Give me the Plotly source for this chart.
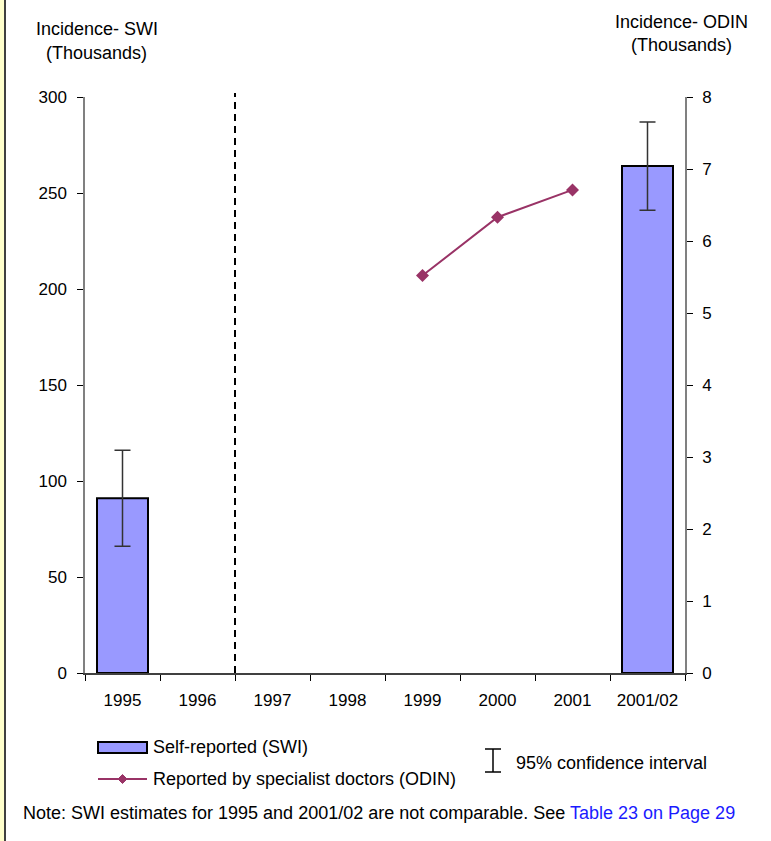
import plotly.graph_objects as go

# ---- data ----
categories = ["1995", "1996", "1997", "1998", "1999", "2000", "2001", "2001/02"]
swi_values = [91, None, None, None, None, None, None, 264]
swi_ci = [25, None, None, None, None, None, None, 23]
odin_values = [None, None, None, None, 5.52, 6.33, 6.71, None]
swi_ticks = [0, 50, 100, 150, 200, 250, 300]
odin_ticks = [0, 1, 2, 3, 4, 5, 6, 7, 8]

W, H = 771, 841
L, R, T, B = 85, 86, 97, 168
PW, PH = W - L - R, H - T - B
FONT = "Liberation Sans, Arial, sans-serif"
FS = 17
FL = 18


def px(x):
    return (x - L) / PW


def py(y):
    return (T + PH - y) / PH


fig = go.Figure()
fig.add_trace(go.Bar(
    x=categories, y=swi_values, name="Self-reported (SWI)",
    marker=dict(color="#9999ff", line=dict(color="#000000", width=2)),
    error_y=dict(type="data", array=swi_ci, color="#333333", thickness=1.5, width=8),
    width=0.68, showlegend=False,
))
fig.add_trace(go.Scatter(
    x=categories, y=odin_values, yaxis="y2", mode="lines+markers",
    name="Reported by specialist doctors (ODIN)",
    line=dict(color="#993366", width=2),
    marker=dict(symbol="diamond", size=10, color="#993366"),
    connectgaps=False, showlegend=False,
))

axis_common = dict(showgrid=False, zeroline=False, tickfont=dict(family=FONT, size=FS, color="#000"))

fig.update_layout(
    width=W, height=H,
    margin=dict(l=L, r=R, t=T, b=B, pad=0),
    paper_bgcolor="white", plot_bgcolor="white",
    font=dict(family=FONT, size=FS, color="#000"),
    showlegend=False,
    xaxis=dict(
        type="category", categoryarray=categories, categoryorder="array",
        range=[-0.5, 7.5], tickson="boundaries", ticks="outside", ticklen=6,
        tickcolor="#000", showline=True, linecolor="#404040", linewidth=1.5,
        ticklabelstandoff=11, **axis_common,
    ),
    xaxis2=dict(
        overlaying="x", anchor="y", side="bottom", range=[-0.5, 7.5],
        tickvals=[i - 0.5 for i in range(9)], ticks="inside", ticklen=6,
        tickcolor="#000", showticklabels=False, showline=False,
        showgrid=False, zeroline=False,
    ),
    yaxis=dict(
        range=[0, 300], tickvals=swi_ticks, ticks="outside", ticklen=6,
        tickcolor="#000", showline=True, linecolor="#808080", linewidth=1.5,
        ticklabelstandoff=7, **axis_common,
    ),
    yaxis2=dict(
        overlaying="y", side="right", anchor="x", range=[0, 8], tickvals=odin_ticks,
        ticks="outside", ticklen=6, tickcolor="#000", showline=True,
        linecolor="#808080", linewidth=1.5, ticklabelstandoff=6, **axis_common,
    ),
    yaxis3=dict(
        overlaying="y", side="left", anchor="x", range=[0, 300], tickvals=swi_ticks,
        ticks="inside", ticklen=6, tickcolor="#000", showticklabels=False,
        showline=False, showgrid=False, zeroline=False,
    ),
    yaxis4=dict(
        overlaying="y", side="right", anchor="x", range=[0, 8], tickvals=odin_ticks,
        ticks="inside", ticklen=6, tickcolor="#000", showticklabels=False,
        showline=False, showgrid=False, zeroline=False,
    ),
)

shapes = []
# dashed separator between 1996 and 1997
shapes.append(dict(type="line", xref="x", yref="paper", x0=1.5, x1=1.5, y0=0, y1=py(93),
                   line=dict(color="#000", width=2, dash="7px,5px")))
# left page border
shapes.append(dict(type="rect", xref="paper", yref="paper", x0=px(0), x1=px(4), y0=py(H), y1=py(0),
                   fillcolor="#ffffcc", line=dict(width=0), layer="below"))
shapes.append(dict(type="line", xref="paper", yref="paper", x0=px(5), x1=px(5), y0=py(H), y1=py(0),
                   line=dict(color="#404040", width=2)))
# legend: bar swatch
shapes.append(dict(type="rect", xref="paper", yref="paper", x0=px(98), x1=px(147), y0=py(753), y1=py(742),
                   fillcolor="#9999ff", line=dict(color="#000", width=2)))
# legend: line swatch with diamond
shapes.append(dict(type="line", xref="paper", yref="paper", x0=px(98), x1=px(147), y0=py(779), y1=py(779),
                   line=dict(color="#993366", width=2)))
dx, dy = 4.5, 4.5
cx, cy = 122.5, 779
shapes.append(dict(type="path", xref="paper", yref="paper",
                   path=f"M{px(cx-dx)},{py(cy)} L{px(cx)},{py(cy-dy)} L{px(cx+dx)},{py(cy)} L{px(cx)},{py(cy+dy)} Z",
                   fillcolor="#993366", line=dict(color="#993366", width=1)))
# legend: confidence interval icon
shapes.append(dict(type="line", xref="paper", yref="paper", x0=px(493), x1=px(493), y0=py(749), y1=py(772),
                   line=dict(color="#000", width=1.5)))
shapes.append(dict(type="line", xref="paper", yref="paper", x0=px(485), x1=px(501), y0=py(749), y1=py(749),
                   line=dict(color="#000", width=1.5)))
shapes.append(dict(type="line", xref="paper", yref="paper", x0=px(485), x1=px(501), y0=py(772), y1=py(772),
                   line=dict(color="#000", width=1.5)))
fig.update_layout(shapes=shapes)


def ann(text, x, y, anchor="center", size=FS):
    fig.add_annotation(text=text, xref="paper", yref="paper", x=px(x), y=py(y),
                       xanchor=anchor, yanchor="middle", showarrow=False,
                       font=dict(family=FONT, size=size, color="#000"))


ann("Incidence- SWI", 96.5, 29, size=FL)
ann("(Thousands)", 96.5, 53, size=FL)
ann("Incidence- ODIN", 681, 22, size=FL)
ann("(Thousands)", 681, 45, size=FL)
ann("Self-reported (SWI)", 151, 747, "left", FL)
ann("Reported by specialist doctors (ODIN)", 151, 779, "left", FL)
ann("95% confidence interval", 514, 763, "left", FL)
ann('Note: SWI estimates for 1995 and 2001/02 are not comparable. See '
    '<span style="color:#1a1aff">Table 23 on Page 29</span>', 21, 813, "left", FL)

fig.write_html("out.html", config={"displayModeBar": False},
               post_script="document.body.style.margin='0';")
